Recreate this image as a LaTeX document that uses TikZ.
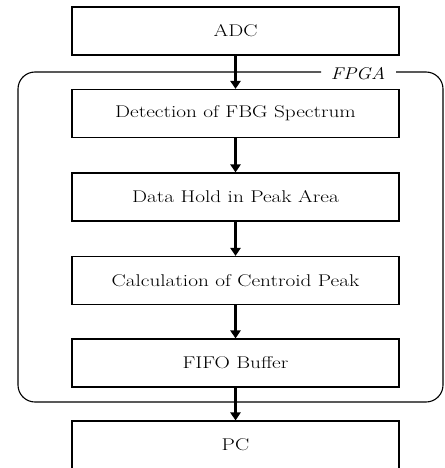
\documentclass[tikz,border=0pt]{standalone}
\usetikzlibrary{arrows.meta}
% wide serif lettering
\newcommand{\widetext}[1]{\scalebox{1.25}[1]{#1}}
\begin{document}
\begin{tikzpicture}[x=1pt,y=-1pt,
  stage/.style={draw,line width=1.1pt,minimum width=327pt,minimum height=48pt,inner sep=0pt,font=\fontsize{17}{19}\selectfont},
  flow/.style={line width=3pt,-{Triangle[width=10pt,length=8pt]}}]
\useasboundingbox (0,0) rectangle (444,468);
% processing stages
\node[stage] (adc) at (235.5,31) {\widetext{ADC}};
\node[stage] (det) at (235.5,113.5) {\widetext{Detection of FBG Spectrum}};
\node[stage] (hold) at (235.5,197) {\widetext{Data Hold in Peak Area}};
\node[stage] (cent) at (235.5,280.5) {\widetext{Calculation of Centroid Peak}};
\node[stage] (fifo) at (235.5,363) {\widetext{FIFO Buffer}};
\node[stage] (pc) at (235.5,445) {\widetext{PC}};
% FPGA enclosure with a gap for its label
\node[font=\fontsize{17}{19}\selectfont\itshape] (lbl) at (358,74) {\scalebox{1.15}[1]{FPGA}};
\draw[line width=1.1pt,rounded corners=17pt]
  (321,72) -- (18,72) -- (18,402) -- (443,402) -- (443,72) -- (396,72);
% connectors
\foreach \a/\b in {adc/det,det/hold,hold/cent,cent/fifo,fifo/pc}
  \draw[flow] (\a.south) -- (\b.north);
\end{tikzpicture}
\end{document}
